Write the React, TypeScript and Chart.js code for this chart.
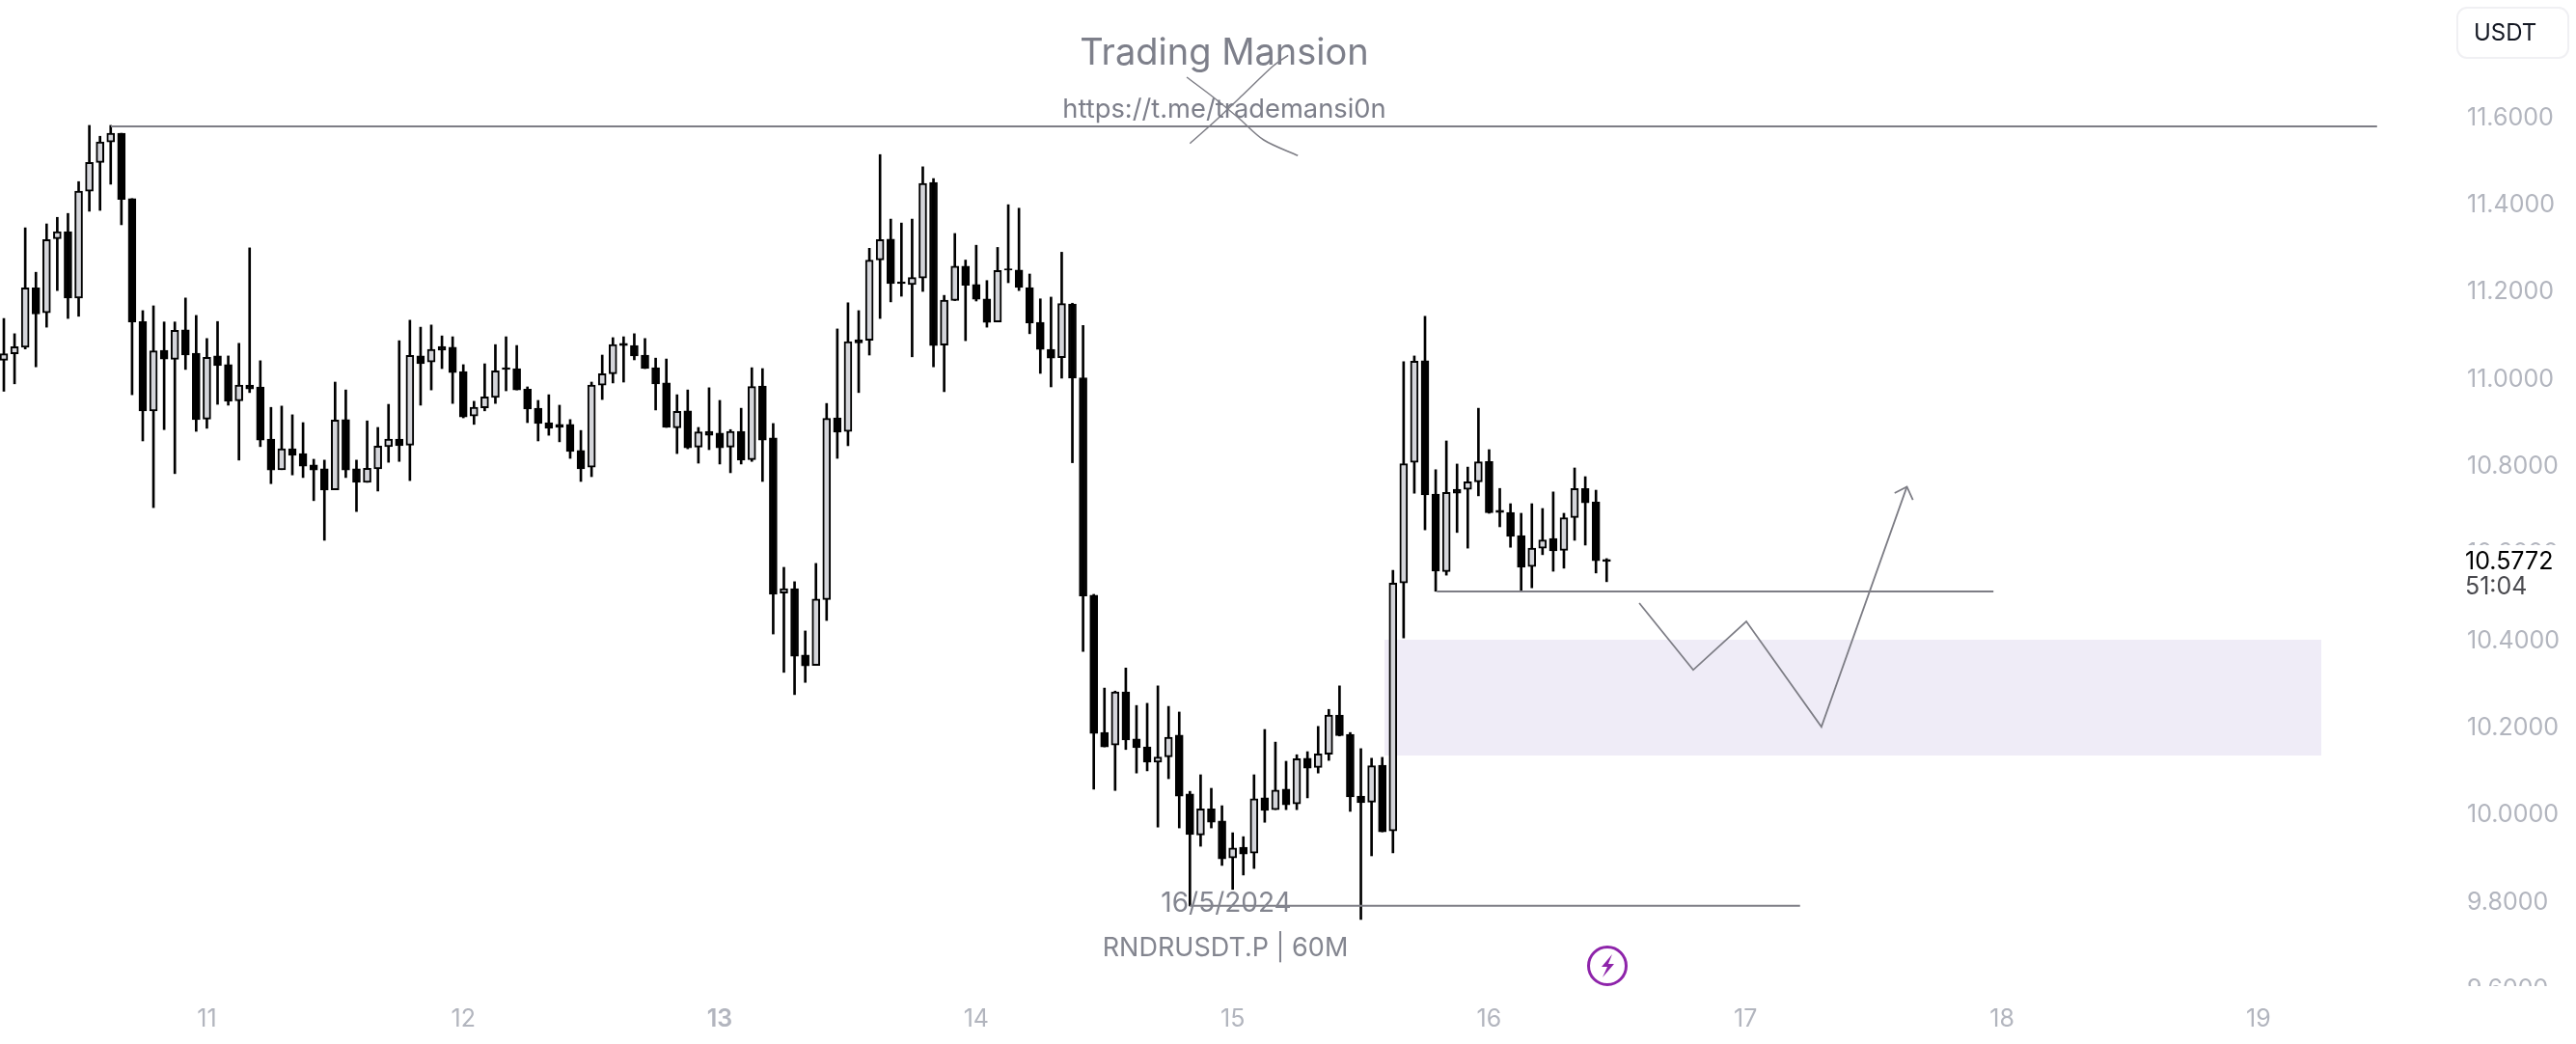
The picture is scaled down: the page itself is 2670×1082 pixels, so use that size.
import React, { useEffect, useRef } from "react";
import { Chart, registerables } from "chart.js";

Chart.register(...registerables);

const opens = [11.039,11.054,11.069,11.205,11.148,11.318,11.334,11.182,11.427,11.493,11.540,11.560,11.410,11.128,10.923,11.062,11.041,11.109,11.055,10.904,11.049,11.029,10.946,10.982,10.978,10.858,10.788,10.836,10.825,10.799,10.790,10.742,10.903,10.790,10.759,10.790,10.841,10.858,10.844,11.049,11.035,11.071,11.069,11.013,10.911,10.930,10.954,11.022,11.020,10.973,10.929,10.896,10.892,10.892,10.832,10.794,10.982,11.008,11.078,11.073,11.051,11.022,10.987,10.884,10.923,10.840,10.876,10.872,10.840,10.876,10.811,10.980,10.861,10.505,10.515,10.363,10.339,10.490,10.907,10.876,11.086,11.085,11.269,11.317,11.219,11.213,11.228,11.447,11.074,11.176,11.255,11.213,11.180,11.127,11.249,11.246,11.206,11.126,11.064,11.045,11.168,10.999,10.500,10.185,10.156,10.278,10.170,10.152,10.117,10.129,10.179,10.044,9.950,10.010,9.982,9.897,9.922,9.908,10.035,10.008,10.055,10.021,10.126,10.105,10.135,10.225,10.181,10.039,10.025,10.110,9.959,10.528,10.805,11.038,10.732,10.554,10.743,10.743,10.760,10.807,10.695,10.690,10.637,10.566,10.608,10.630,10.603,10.678,10.745,10.714,10.582];

const closes = [11.054,11.070,11.205,11.145,11.316,11.334,11.182,11.427,11.493,11.540,11.560,11.408,11.127,10.923,11.061,11.042,11.108,11.051,10.903,11.046,11.027,10.945,10.982,10.973,10.856,10.787,10.836,10.821,10.796,10.787,10.741,10.902,10.787,10.759,10.791,10.842,10.858,10.843,11.050,11.031,11.064,11.062,11.011,10.909,10.931,10.955,11.015,11.018,10.971,10.927,10.894,10.883,10.885,10.830,10.790,10.982,11.008,11.075,11.073,11.049,11.020,10.985,10.885,10.922,10.838,10.875,10.867,10.838,10.876,10.810,10.979,10.856,10.502,10.515,10.360,10.338,10.491,10.906,10.874,11.082,11.079,11.269,11.316,11.215,11.215,11.229,11.445,11.073,11.177,11.255,11.211,11.179,11.126,11.245,11.246,11.206,11.125,11.064,11.044,11.169,10.998,10.498,10.183,10.152,10.278,10.168,10.150,10.117,10.129,10.174,10.039,9.951,10.010,9.979,9.895,9.920,9.906,10.033,10.006,10.053,10.019,10.125,10.103,10.136,10.225,10.178,10.037,10.024,10.109,9.957,10.528,10.802,11.037,10.730,10.555,10.736,10.734,10.760,10.806,10.689,10.690,10.635,10.564,10.608,10.627,10.602,10.678,10.745,10.712,10.579,10.5772];

const highs = [11.135,11.100,11.343,11.241,11.352,11.367,11.376,11.449,11.578,11.553,11.578,11.560,11.410,11.153,11.164,11.127,11.127,11.182,11.142,11.089,11.128,11.049,11.078,11.297,11.038,10.931,10.934,10.914,10.896,10.812,10.810,10.989,10.971,10.810,10.900,10.885,10.938,11.084,11.131,11.115,11.120,11.095,11.093,11.029,10.945,11.031,11.075,11.093,11.073,10.978,10.947,10.960,10.936,10.903,10.878,10.989,11.051,11.091,11.093,11.100,11.089,11.044,11.042,10.960,10.971,10.885,10.976,10.947,10.880,10.929,11.022,11.020,10.894,10.564,10.531,10.418,10.573,10.940,11.111,11.171,11.153,11.296,11.511,11.363,11.354,11.363,11.483,11.456,11.188,11.330,11.269,11.303,11.222,11.298,11.396,11.388,11.237,11.180,11.184,11.287,11.170,11.119,10.502,10.287,10.280,10.333,10.247,10.252,10.292,10.245,10.232,10.050,10.088,10.057,10.017,9.955,9.946,10.088,10.192,10.163,10.119,10.134,10.141,10.199,10.238,10.292,10.185,10.148,10.126,10.128,10.557,11.036,11.049,11.140,10.788,10.854,10.801,10.794,10.929,10.834,10.745,10.710,10.688,10.710,10.699,10.737,10.688,10.792,10.772,10.741,10.584];

const lows = [10.968,10.985,11.065,11.024,11.115,11.199,11.135,11.140,11.381,11.383,11.443,11.350,10.960,10.854,10.701,10.880,10.779,11.018,10.876,10.883,10.938,10.936,10.810,10.965,10.841,10.756,10.788,10.776,10.770,10.717,10.626,10.742,10.770,10.692,10.759,10.739,10.805,10.807,10.763,10.936,10.971,11.020,10.940,10.907,10.892,10.923,10.940,10.969,10.971,10.896,10.854,10.867,10.852,10.814,10.761,10.772,10.949,10.987,10.989,11.040,11.020,10.925,10.885,10.825,10.836,10.803,10.834,10.801,10.781,10.801,10.807,10.761,10.411,10.323,10.272,10.300,10.339,10.442,10.814,10.843,10.965,11.051,11.135,11.173,11.186,11.047,11.197,11.024,10.967,11.176,11.084,11.175,11.115,11.127,11.217,11.199,11.100,11.009,10.978,10.998,10.804,10.371,10.055,10.152,10.052,10.146,10.092,10.097,9.968,10.079,9.966,9.787,9.924,9.966,9.880,9.825,9.858,9.873,9.979,10.008,10.008,10.008,10.035,10.092,10.121,10.177,10.004,9.756,9.902,9.957,9.909,10.402,10.734,10.650,10.509,10.546,10.644,10.608,10.728,10.688,10.657,10.610,10.509,10.517,10.593,10.555,10.562,10.626,10.615,10.551,10.531];

const yTicks = [9.6, 9.8, 10.0, 10.2, 10.4, 10.6, 10.8, 11.0, 11.2, 11.4, 11.6];
const dayTickPositions = [19, 43, 67, 91, 115, 139, 163, 187, 211];
const dayLabels = ["11", "12", "13", "14", "15", "16", "17", "18", "19"];
const boldDay = "13";

const resistanceLine = [{ x: 10.02, y: 11.5756 }, { x: 222.1, y: 11.5756 }];
const midLevelLine = [{ x: 134.1, y: 10.5086 }, { x: 186.2, y: 10.5086 }];
const lowLevelLine = [{ x: 111, y: 9.7875 }, { x: 168.1, y: 9.7875 }];
const projectionPath = [
  { x: 153.05, y: 10.482 }, { x: 158.1, y: 10.3286 }, { x: 163.07, y: 10.44 },
  { x: 170.1, y: 10.198 }, { x: 178.1, y: 10.749 },
];
const arrowHead = [{ x: 176.95, y: 10.7344 }, { x: 178.1, y: 10.749 }, { x: 178.66, y: 10.7189 }];
const crossCurveA = [
  { x: 110.7, y: 11.6886 }, { x: 113.1, y: 11.6443 }, { x: 115.5, y: 11.5962 },
  { x: 117.9, y: 11.5447 }, { x: 121.1, y: 11.5086 },
];
const crossCurveB = [
  { x: 111, y: 11.5365 }, { x: 113.4, y: 11.5889 }, { x: 116.1, y: 11.6516 },
  { x: 118.8, y: 11.7145 }, { x: 120.2, y: 11.7388 },
];
const zoneTop = [{ x: 129.2, y: 10.3979 }, { x: 216.9, y: 10.3979 }];
const zoneBottom = [{ x: 129.2, y: 10.1322 }, { x: 216.9, y: 10.1322 }];

const lastPrice = 10.5772;
const countdown = "51:04";
const currency = "USDT";
const titleText = "Trading Mansion";
const urlText = "https://t.me/trademansi0n";
const dateText = "16/5/2024";
const symbolText = "RNDRUSDT.P | 60M";

const FONT = "Inter, 'Noto Sans', sans-serif";
const INK = "#000000";
const UP_FILL = "#d4d5da";
const LINE = "#7d7d85";
const WATERMARK = "#83858f";
const AXIS_TEXT = "#b2b5be";

const overlay = {
  id: "overlay",
  afterDatasetsDraw(chart: any) {
    const { ctx } = chart;
    ctx.save();
    ctx.fillStyle = "#ffffff";
    ctx.fillRect(2500, 1022, 170, 60);
    ctx.fillRect(2545, 565, 125, 55);
    ctx.restore();
  },
  afterDraw(chart: any) {
    const { ctx, scales } = chart;
    ctx.save();
    ctx.textBaseline = "middle";

    ctx.textAlign = "center";
    ctx.fillStyle = "#7d7f8a";
    ctx.font = `400 38px ${FONT}`;
    ctx.fillText(titleText, 1269, 56);
    ctx.font = `400 27.3px ${FONT}`;
    ctx.fillText(urlText, 1269, 113.5);

    ctx.fillStyle = WATERMARK;
    ctx.font = `400 28px ${FONT}`;
    ctx.fillText(dateText, 1271, 937);
    ctx.font = `400 27px ${FONT}`;
    ctx.fillText(symbolText, 1270, 983);

    ctx.textAlign = "left";
    ctx.fillStyle = "#000000";
    ctx.font = `400 25px ${FONT}`;
    ctx.fillText(lastPrice.toFixed(4), 2555, scales.y.getPixelForValue(lastPrice));
    ctx.fillStyle = "#4a4a4f";
    ctx.fillText(countdown, 2555, 608);

    ctx.strokeStyle = "#f0f0f3";
    ctx.lineWidth = 2;
    ctx.fillStyle = "#ffffff";
    ctx.beginPath();
    ctx.roundRect(2547, 8, 115, 52, 10);
    ctx.fill();
    ctx.stroke();
    ctx.fillStyle = "#131722";
    ctx.font = `400 24px ${FONT}`;
    ctx.fillText(currency, 2564, 35);

    ctx.strokeStyle = "#8e24aa";
    ctx.lineWidth = 3;
    ctx.beginPath();
    ctx.arc(1666, 1001, 19.5, 0, Math.PI * 2);
    ctx.stroke();
    ctx.fillStyle = "#8e24aa";
    ctx.beginPath();
    ctx.moveTo(1671, 989);
    ctx.lineTo(1660, 1002);
    ctx.lineTo(1666, 1002);
    ctx.lineTo(1661, 1013);
    ctx.lineTo(1673, 999);
    ctx.lineTo(1667, 999);
    ctx.closePath();
    ctx.fill();
    ctx.restore();
  },
};

function annotation(data: { x: number; y: number }[], extra: any = {}) {
  return {
    type: "line",
    data,
    parsing: false,
    borderColor: LINE,
    borderWidth: 2,
    pointRadius: 0,
    fill: false,
    tension: 0,
    order: 1,
    ...extra,
  };
}

export default function App() {
  const ref = useRef<HTMLCanvasElement>(null);

  useEffect(() => {
    const idx = opens.map((_, i) => i);
    const rising = (i: number) => closes[i] > opens[i];
    const chart = new Chart(ref.current as any, {
      data: {
        datasets: [
          annotation(zoneTop, { borderWidth: 0, backgroundColor: "#efecf7", fill: "+1", order: 10 }),
          annotation(zoneBottom, { borderWidth: 0, order: 10 }),
          {
            type: "bar",
            data: idx.map((i) => ({ x: i, y: [lows[i], highs[i]] })),
            backgroundColor: INK,
            barThickness: 2,
            grouped: false,
            order: 5,
          },
          {
            type: "bar",
            data: idx.map((i) => ({ x: i, y: [opens[i], closes[i]] })),
            backgroundColor: idx.map((i) => (rising(i) ? UP_FILL : INK)),
            borderColor: INK,
            borderWidth: 2,
            borderSkipped: false,
            barThickness: 8,
            grouped: false,
            order: 4,
          },
          annotation(resistanceLine),
          annotation(midLevelLine),
          annotation(lowLevelLine),
          annotation(projectionPath, { borderWidth: 1.8 }),
          annotation(arrowHead, { borderWidth: 1.8 }),
          annotation(crossCurveA, { borderWidth: 1.5, tension: 0.3 }),
          annotation(crossCurveB, { borderWidth: 1.5, tension: 0.3 }),
        ],
      } as any,
      options: {
        responsive: false,
        animation: false,
        devicePixelRatio: 1,
        layout: { padding: 0 },
        plugins: { legend: { display: false }, tooltip: { enabled: false } },
        scales: {
          x: {
            type: "linear",
            position: "bottom",
            offset: false,
            min: -0.3612,
            max: 228.98,
            z: 1,
            grid: { display: false, drawTicks: false, offset: false },
            border: { display: false },
            afterBuildTicks: (s: any) => {
              s.ticks = dayTickPositions.map((value) => ({ value }));
            },
            afterFit: (s: any) => {
              s.height = 58;
              s.paddingLeft = 0;
              s.paddingRight = 0;
            },
            ticks: {
              autoSkip: false,
              maxRotation: 0,
              padding: 17,
              color: AXIS_TEXT,
              font: (c: any) => ({
                family: FONT,
                size: 25,
                weight: dayLabels[dayTickPositions.indexOf(c.tick?.value)] === boldDay ? "600" : "400",
              }),
              callback: (v: any) => dayLabels[dayTickPositions.indexOf(v)],
            },
          },
          y: {
            type: "linear",
            position: "right",
            min: 9.5987,
            max: 11.8657,
            grid: { display: false, drawTicks: false },
            border: { display: false },
            afterBuildTicks: (s: any) => {
              s.ticks = yTicks.map((value) => ({ value }));
            },
            afterFit: (s: any) => {
              s.width = 130;
              s.paddingTop = 0;
              s.paddingBottom = 0;
            },
            ticks: {
              autoSkip: false,
              padding: 17,
              labelOffset: 2,
              color: AXIS_TEXT,
              font: { family: FONT, size: 25 },
              callback: (v: any) => Number(v).toFixed(4),
            },
          },
        },
      } as any,
      plugins: [overlay],
    });
    return () => chart.destroy();
  }, []);

  return (
    <canvas
      ref={ref}
      width={2670}
      height={1082}
      style={{ position: "absolute", left: 0, top: 0, width: 2670, height: 1082, display: "block" }}
    />
  );
}
